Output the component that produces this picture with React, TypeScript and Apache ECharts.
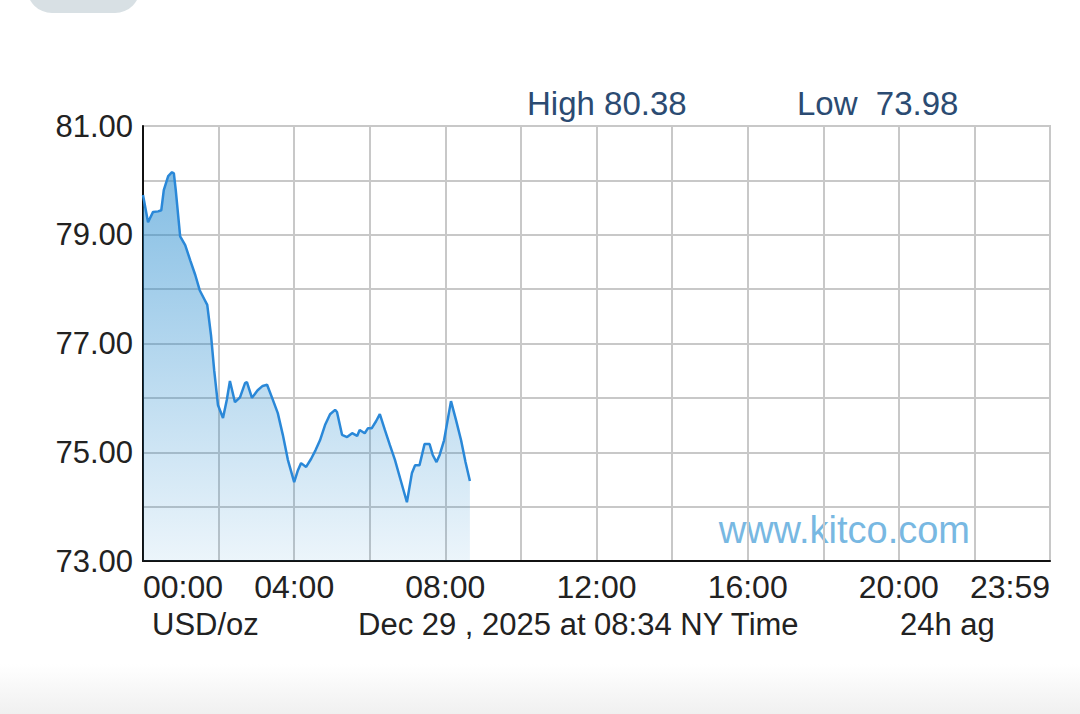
import React, { useEffect, useRef } from "react";
import * as echarts from "echarts";

// Minutes since 00:00 NY time and silver price (USD/oz)
const minutes = [0,8,16,24,29,33,40,46,49,52,59,67,75,83,90,98,102,108,113,119,127,133,138,146,154,162,165,173,182,190,197,205,214,222,230,240,246,251,259,267,274,281,289,297,305,308,316,324,332,340,344,352,357,363,370,376,384,392,400,409,419,427,432,439,447,455,460,466,471,478,489,497,505,512,519];
const prices = [79.73,79.23,79.42,79.43,79.45,79.82,80.08,80.15,80.13,79.82,78.97,78.81,78.53,78.26,77.98,77.80,77.71,77.15,76.51,75.87,75.63,75.96,76.31,75.92,76.01,76.27,76.29,76.00,76.14,76.22,76.24,76.00,75.72,75.32,74.86,74.45,74.67,74.80,74.73,74.88,75.04,75.22,75.50,75.70,75.78,75.74,75.32,75.28,75.35,75.30,75.41,75.35,75.44,75.44,75.57,75.70,75.41,75.13,74.86,74.49,74.08,74.62,74.76,74.76,75.15,75.15,74.95,74.82,74.95,75.22,75.94,75.59,75.22,74.82,74.47];

const yLabelValues = [73, 75, 77, 79, 81];
const xLabelMinutes = [0, 240, 480, 720, 960, 1200];
const highText = "High 80.38";
const lowText = "Low  73.98";
const unitText = "USD/oz";
const dateText = "Dec 29 , 2025 at 08:34 NY Time";
const agoText = "24h ag";
const siteText = "www.kitco.com";

const FONT = "'Liberation Sans', Arial, sans-serif";

function fmtMinutes(v: number): string {
  if (v >= 1440) return "23:59";
  const h = Math.floor(v / 60);
  const m = v % 60;
  return String(h).padStart(2, "0") + ":" + String(m).padStart(2, "0");
}

export default function App() {
  const ref = useRef<HTMLDivElement>(null);
  useEffect(() => {
    document.body.style.margin = "0";
    document.body.style.background = "#ffffff";
    if (!ref.current) return;
    const chart = echarts.init(ref.current, null, { renderer: "svg" });
    const data = minutes.map((m, i) => [m, prices[i]]);
    chart.setOption({
      animation: false,
      backgroundColor: "#ffffff",
      grid: {
        left: 143,
        right: 30,
        top: 126,
        bottom: 153,
        show: true,
        borderColor: "#c8c8c8",
        borderWidth: 2,
      },
      xAxis: {
        type: "value",
        min: 0,
        max: 1440,
        interval: 120,
        axisLine: { show: true, lineStyle: { color: "#111", width: 2 } },
        axisTick: { show: false },
        splitLine: { show: true, lineStyle: { color: "#c8c8c8", width: 2 } },
        axisLabel: {
          show: true,
          showMinLabel: true,
          showMaxLabel: true,
          alignMinLabel: "left",
          alignMaxLabel: "right",
          margin: 10,
          color: "#222",
          fontSize: 32,
          fontFamily: FONT,
          formatter: (v: number) =>
            v === 1440 || xLabelMinutes.indexOf(v) >= 0 ? fmtMinutes(v) : "",
        },
      },
      yAxis: {
        type: "value",
        min: 73,
        max: 81,
        interval: 1,
        axisLine: { show: true, lineStyle: { color: "#111", width: 2 } },
        axisTick: { show: false },
        splitLine: { show: true, lineStyle: { color: "#c8c8c8", width: 2 } },
        axisLabel: {
          margin: 10,
          color: "#222",
          fontSize: 31,
          fontFamily: FONT,
          formatter: (v: number) =>
            yLabelValues.indexOf(v) >= 0 ? v.toFixed(2) : "",
        },
      },
      series: [
        {
          type: "line",
          data,
          showSymbol: false,
          smooth: false,
          lineStyle: { color: "#2a88d8", width: 2.5 },
          areaStyle: {
            color: new echarts.graphic.LinearGradient(0, 0, 0, 1, [
              { offset: 0, color: "rgba(30,135,205,0.78)" },
              { offset: 1, color: "rgba(30,135,205,0.12)" },
            ]),
          },
        },
      ],
      graphic: [
        {
          type: "rect",
          shape: { x: 27, y: -40, width: 113, height: 53, r: 25 },
          style: { fill: "#d8e0e4" },
        },
        {
          type: "rect",
          shape: { x: 0, y: 664, width: 1080, height: 50 },
          style: {
            fill: new echarts.graphic.LinearGradient(0, 0, 0, 1, [
              { offset: 0, color: "rgba(240,240,240,0)" },
              { offset: 1, color: "rgba(240,240,240,1)" },
            ]),
          },
        },
        {
          type: "text",
          x: 527,
          y: 103,
          style: {
            text: highText,
            fill: "#2b4b72",
            fontSize: 33,
            fontFamily: FONT,
            verticalAlign: "middle",
            align: "left",
          },
        },
        {
          type: "text",
          x: 797,
          y: 103,
          style: {
            text: lowText,
            fill: "#2b4b72",
            fontSize: 33,
            fontFamily: FONT,
            verticalAlign: "middle",
            align: "left",
          },
        },
        {
          type: "text",
          x: 970,
          y: 530,
          style: {
            text: siteText,
            fill: "#78b8e2",
            fontSize: 38,
            fontFamily: FONT,
            verticalAlign: "middle",
            align: "right",
          },
        },
        {
          type: "text",
          x: 152,
          y: 624,
          style: {
            text: unitText,
            fill: "#222",
            fontSize: 31,
            fontFamily: FONT,
            verticalAlign: "middle",
            align: "left",
          },
        },
        {
          type: "text",
          x: 358,
          y: 624,
          style: {
            text: dateText,
            fill: "#222",
            fontSize: 31,
            fontFamily: FONT,
            verticalAlign: "middle",
            align: "left",
          },
        },
        {
          type: "text",
          x: 900,
          y: 624,
          style: {
            text: agoText,
            fill: "#222",
            fontSize: 31,
            fontFamily: FONT,
            verticalAlign: "middle",
            align: "left",
          },
        },
      ],
    });
    return () => chart.dispose();
  }, []);
  return <div ref={ref} style={{ width: 1080, height: 714 }} />;
}
